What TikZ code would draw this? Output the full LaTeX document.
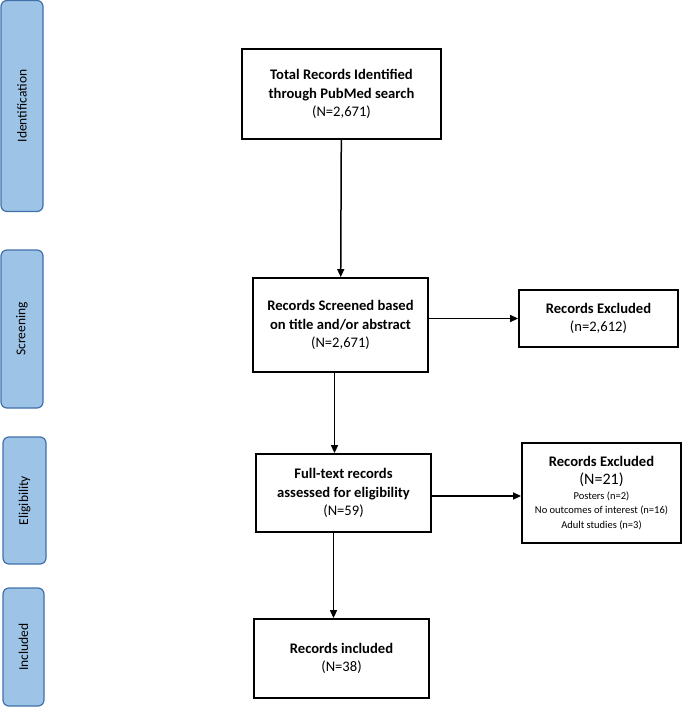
\documentclass[tikz,border=0pt]{standalone}
\usepackage{fontspec}
\setmainfont{Carlito}
\usepackage{tikz}
\usetikzlibrary{arrows.meta}

\definecolor{phasefill}{RGB}{157,195,230}
\definecolor{phaseline}{RGB}{65,113,170}

\begin{document}
\begin{tikzpicture}[x=1pt,y=-1pt,
    box/.style={draw,line width=1.8pt,align=center,inner sep=2pt,
      font=\fontsize{14.6}{18.5}\selectfont},
    phase/.style={draw=phaseline,fill=phasefill,line width=1.2pt,rounded corners=6pt},
    phasetext/.style={rotate=90,font=\fontsize{13.5}{15}\selectfont},
    arr/.style={-{Triangle[length=8pt,width=7pt]},line width=1.5pt}]
    \useasboundingbox (0,0) rectangle (682,716);

    % draw phase bars on the left
    \node[phase,minimum width=42pt,minimum height=211pt] (ident) at (22,106) {};
    \node[phase,minimum width=42pt,minimum height=158pt] (screen) at (22,329) {};
    \node[phase,minimum width=43pt,minimum height=127pt] (elig) at (24.5,500.5) {};
    \node[phase,minimum width=41pt,minimum height=118pt] (incl) at (23.5,647) {};
    \node[phasetext] at (ident) {Identification};
    \node[phasetext] at (screen) {Screening};
    \node[phasetext] at (elig) {Eligibility};
    \node[phasetext] at (incl) {Included};

    % draw boxes
    \node[box,minimum width=199pt,minimum height=90pt] (total) at (341.5,94)
      {\textbf{Total Records Identified}\\ \textbf{through PubMed search}\\ (N=2,671)};
    \node[box,minimum width=175pt,minimum height=94pt] (scr) at (340.5,325)
      {\textbf{Records Screened based}\\ \textbf{on title and/or abstract}\\ (N=2,671)};
    \node[box,minimum width=159pt,minimum height=57pt] (ex1) at (598.5,318.5)
      {\textbf{Records Excluded}\\ (n=2,612)};
    \node[box,minimum width=175pt,minimum height=78pt] (full) at (343.5,493)
      {\textbf{Full-text records}\\ \textbf{assessed for eligibility}\\ (N=59)};
    \node[box,minimum width=159pt,minimum height=100pt] (ex2) at (601.5,493)
      {\textbf{Records Excluded}\\[-1pt] {\fontsize{16}{18}\selectfont (N=21)}\\[-3pt]
       {\fontsize{10.5}{14}\selectfont Posters (n=2)}\\[-4.5pt]
       {\fontsize{10.5}{14}\selectfont No outcomes of interest (n=16)}\\[-4pt]
       {\fontsize{10.5}{14}\selectfont Adult studies (n=3)}};
    \node[box,minimum width=175pt,minimum height=79pt] (inc) at (341.5,658.5)
      {\textbf{Records included}\\ (N=38)};

    % draw arrows
    \draw[arr] (total) -- (scr);
    \draw[arr] ([xshift=-6pt]scr.south) -- ([xshift=-9pt]full.north);
    \draw[arr] ([xshift=-10pt]full.south) -- ([xshift=-8pt]inc.north);
    \draw[arr] (ex1.west -| scr.east) -- (ex1.west);
    \draw[arr] ([yshift=-3pt]full.east) -- ([yshift=-3pt]ex2.west);
\end{tikzpicture}
\end{document}
